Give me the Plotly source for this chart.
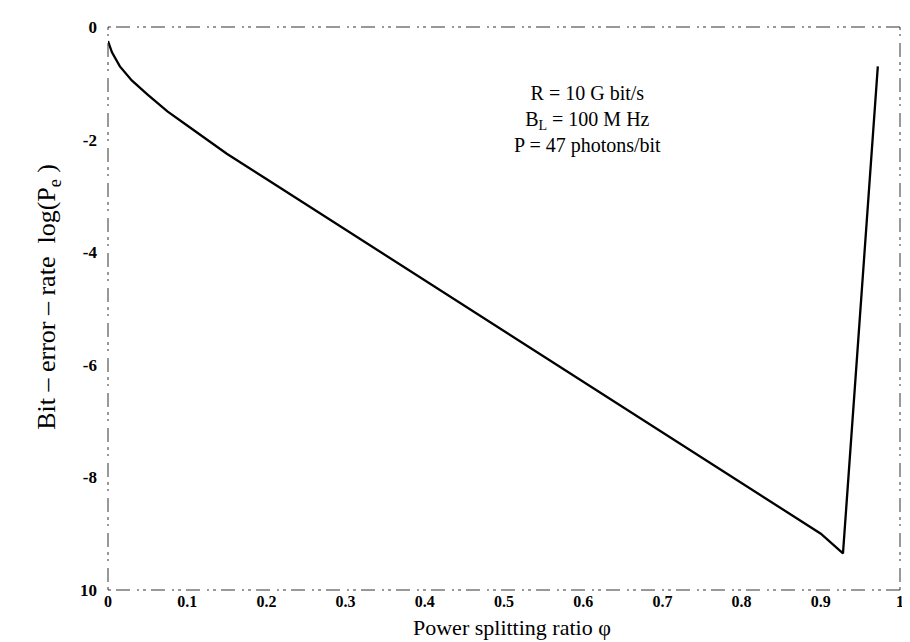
import plotly.graph_objects as go

# power splitting ratio and log10 of the bit error rate
phi = [0.0, 0.005, 0.015, 0.03, 0.05, 0.075, 0.1, 0.15, 0.2, 0.3, 0.4,
       0.5, 0.6, 0.7, 0.8, 0.9, 0.928, 0.972]
log_pe = [-0.25, -0.45, -0.7, -0.95, -1.2, -1.5, -1.75, -2.25, -2.7, -3.6,
          -4.5, -5.4, -6.3, -7.2, -8.1, -9.0, -9.35, -0.7]

x_ticks = [0, 0.1, 0.2, 0.3, 0.4, 0.5, 0.6, 0.7, 0.8, 0.9, 1]
x_labels = ["0", "0.1", "0.2", "0.3", "0.4", "0.5", "0.6", "0.7", "0.8", "0.9", "1"]
y_ticks = [0, -2, -4, -6, -8, -10]
y_labels = ["0", "-2", "-4", "-6", "-8", "10"]

notes = ["R = 10 G bit/s", "B<sub>L</sub> = 100 M Hz", "P = 47 photons/bit"]

serif = "Liberation Serif, Times New Roman, serif"

fig = go.Figure()

fig.add_trace(go.Scatter(
    x=phi,
    y=log_pe,
    mode="lines",
    line=dict(color="black", width=2.3),
    hoverinfo="skip",
    showlegend=False
))

# broken, scanned-looking frame
frame_dash = "3px,5px,14px,7px,2px,4px"
for x0, y0, x1, y1 in [(0, 0, 1, 0), (0, 1, 1, 1), (0, 0, 0, 1), (1, 0, 1, 1)]:
    fig.add_shape(type="line", xref="paper", yref="paper",
                  x0=x0, y0=y0, x1=x1, y1=y1,
                  line=dict(color="#333333", width=1, dash=frame_dash))

fig.add_annotation(
    x=0.605, y=-1.65, xref="x", yref="y",
    text="<br>".join(notes),
    showarrow=False,
    align="center",
    font=dict(family=serif, size=20, color="black")
)

# axis titles as annotations so they sit where the scan has them
fig.add_annotation(
    x=0.51, y=0, xref="paper", yref="paper",
    xanchor="center", yanchor="top", yshift=-23,
    text="Power splitting ratio φ",
    showarrow=False,
    font=dict(family=serif, size=22, color="black")
)
fig.add_annotation(
    x=-0.075, y=0.52, xref="paper", yref="paper",
    xanchor="center", yanchor="middle",
    text="Bit – error – rate  log(P<sub>e</sub> )",
    textangle=-90,
    showarrow=False,
    font=dict(family=serif, size=26, color="black")
)

fig.update_xaxes(
    range=[0, 1],
    tickvals=x_ticks,
    ticktext=x_labels,
    showgrid=False,
    zeroline=False,
    showline=False,
    ticks="",
    ticklabelstandoff=0,
    tickfont=dict(family=serif, size=16, color="black", weight="bold")
)

fig.update_yaxes(
    range=[-10, 0],
    tickvals=y_ticks,
    ticktext=y_labels,
    showgrid=False,
    zeroline=False,
    showline=False,
    ticks="",
    ticklabelstandoff=10,
    tickfont=dict(family=serif, size=17, color="black", weight="bold")
)

fig.update_layout(
    width=910,
    height=642,
    plot_bgcolor="white",
    paper_bgcolor="white",
    margin=dict(l=100, r=18, t=10, b=60)
)

fig.write_html("out.html")
